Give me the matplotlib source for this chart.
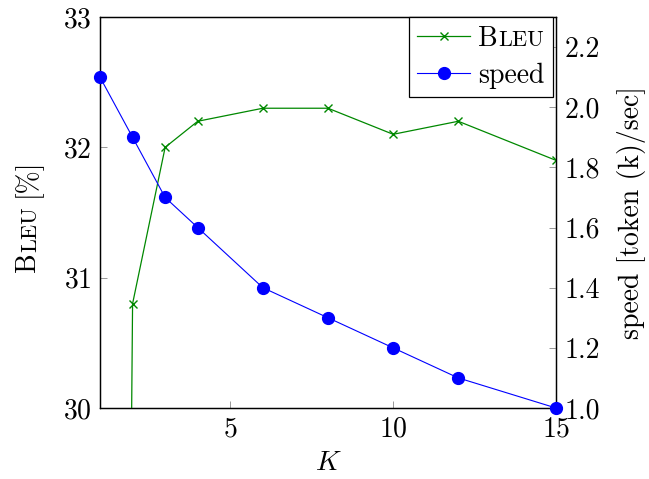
import matplotlib
matplotlib.use("Agg")
import matplotlib.pyplot as plt
from matplotlib.lines import Line2D

plt.rcParams['font.family'] = ['cmr10', 'DejaVu Serif']
plt.rcParams['mathtext.fontset'] = 'cm'
plt.rcParams['axes.formatter.use_mathtext'] = True
plt.rcParams['font.size'] = 20

# data
k_bleu = [1, 2, 3, 4, 6, 8, 10, 12, 15]
bleu = [2.0, 30.8, 32.0, 32.2, 32.3, 32.3, 32.1, 32.2, 31.9]
k_speed = [1, 2, 3, 4, 6, 8, 10, 12, 15]
speed = [2.1, 1.9, 1.7, 1.6, 1.4, 1.3, 1.2, 1.1, 1.0]
xticks = [5, 10, 15]
yticks_left = [30, 31, 32, 33]
yticks_right = [1.0, 1.2, 1.4, 1.6, 1.8, 2.0, 2.2]

FS = 20
SC = 16  # small-caps size

W, H = 649, 479
fig = plt.figure(figsize=(W / 100, H / 100), dpi=100)
ax = fig.add_axes([100 / W, (H - 408) / H, 456 / W, 391 / H])
ax2 = ax.twinx()

green = '#008800'
blue = '#0000ff'

ax.plot(k_bleu, bleu, color=green, lw=0.9, marker='x', ms=5.5, mew=1.0, zorder=3)
ax2.plot(k_speed, speed, color=blue, lw=0.8, marker='o', ms=8.5, clip_on=False, zorder=3)

ax.set_xlim(1, 15)
ax.set_ylim(30, 33)
ax2.set_ylim(1.0, 2.3)
ax.set_xticks(xticks)
ax.set_yticks(yticks_left)
ax2.set_yticks(yticks_right)
ax2.set_yticklabels([f"{v:.1f}" for v in yticks_right])

for a in (ax, ax2):
    for s in a.spines.values():
        s.set_linewidth(0.9)
    a.tick_params(direction='in', length=5, width=0.6, color='#888888', pad=6)
ax.tick_params(axis='x', top=False, bottom=True)
ax.tick_params(axis='y', left=True, right=False)
ax2.tick_params(axis='y', left=False, right=True)

ax.set_xlabel('$K$', labelpad=5)
ax2.set_ylabel('speed [token (k)/sec]', labelpad=12)

# left y label "Bleu [%]" with small caps, built from pieces
b1 = fig.text(15 / W, (H - 272) / H, 'B', rotation=90, ha='left', va='bottom', fontsize=FS)
b2 = ax.annotate('LEU', xy=(1, 1), xycoords=b1, xytext=(-1, 0), textcoords='offset points',
                 rotation=90, ha='right', va='bottom', fontsize=SC, annotation_clip=False)
b3 = ax.annotate('[%]', xy=(1, 1), xycoords=b2, xytext=(1, 7), textcoords='offset points',
                 rotation=90, ha='right', va='bottom', fontsize=FS, annotation_clip=False)

handles = [Line2D([], [], color=green, lw=0.9, marker='x', ms=5.5, mew=1.0),
           Line2D([], [], color=blue, lw=0.8, marker='o', ms=8.5)]
leg = ax2.legend(handles, ['B', 'speed'], loc='upper right', fancybox=False,
                 bbox_to_anchor=(1 - 3 / 456, 1.0), borderaxespad=0,
                 edgecolor='black', framealpha=1,
                 handlelength=1.9, handletextpad=0.3, borderpad=0.3,
                 labelspacing=0.4)
leg.get_frame().set_linewidth(0.9)
leg.set_zorder(5)
lt = leg.get_texts()[0]
l2 = ax2.annotate('LEU', xy=(1, 0), xycoords=lt, xytext=(0, 1), textcoords='offset points',
                  ha='left', va='bottom', fontsize=SC, annotation_clip=False, zorder=6)

fig.savefig('out.png', dpi=100)
